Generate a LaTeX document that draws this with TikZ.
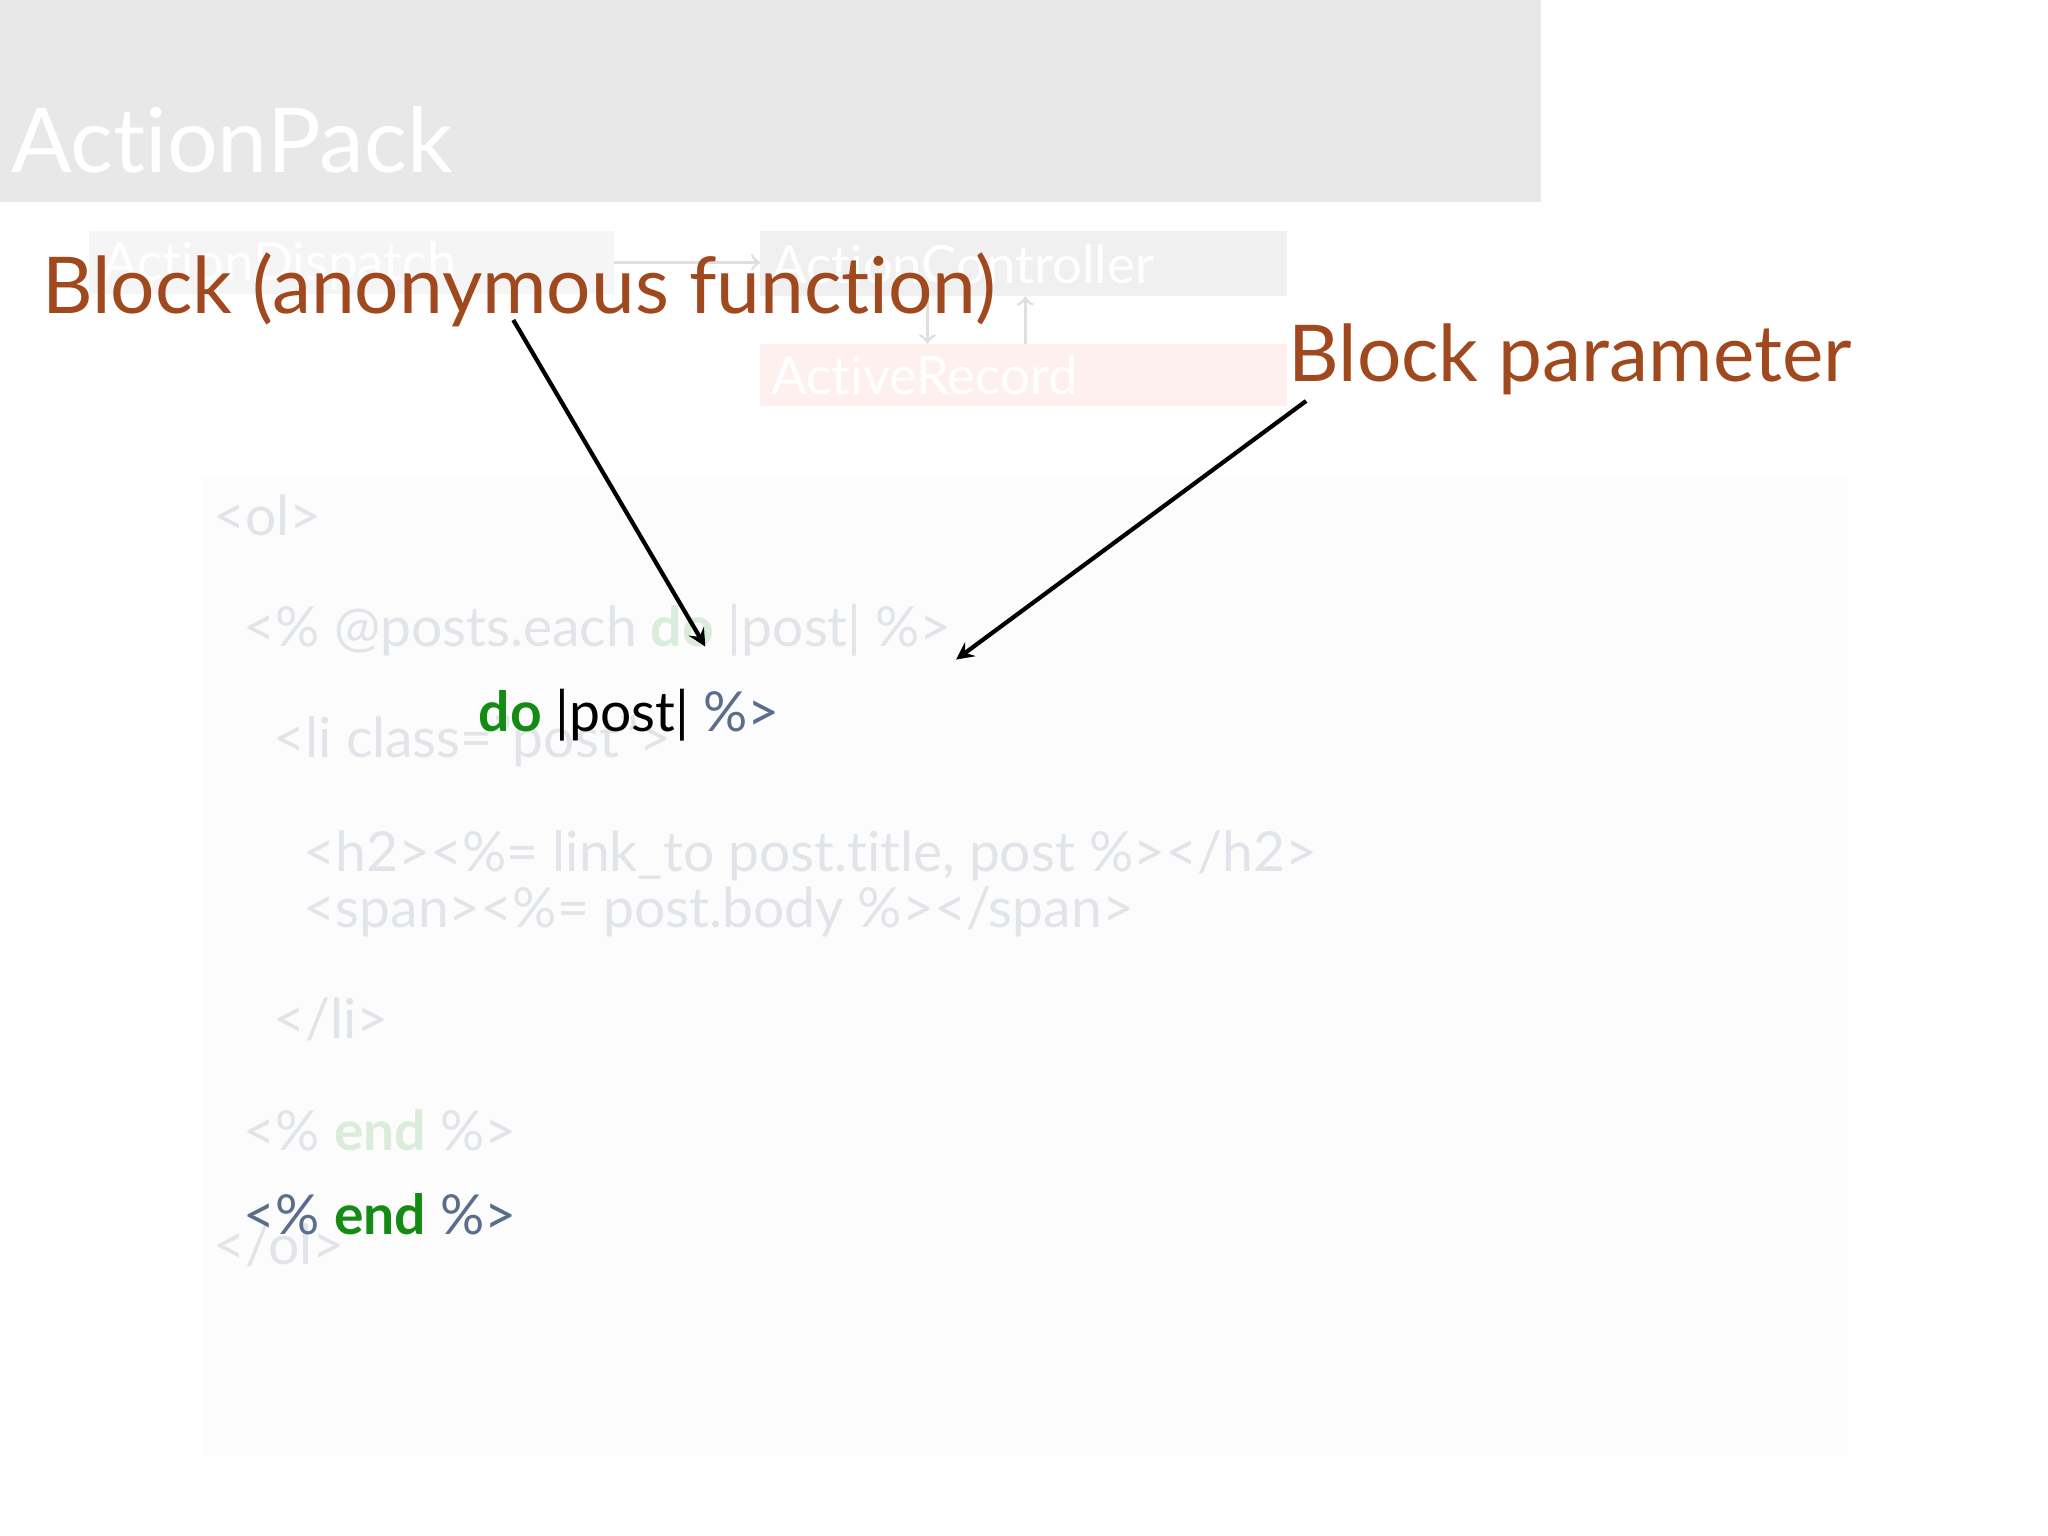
\documentclass[tikz,border=0pt]{standalone}
\usepackage{fontspec}
\setmainfont[Ligatures=NoCommon]{Lato}
\usetikzlibrary{positioning}
\definecolor{rust}{RGB}{160,72,30}
\definecolor{kwgreen}{RGB}{20,140,20}
\definecolor{tagblue}{RGB}{90,110,140}
\definecolor{faint}{RGB}{225,228,232}
\definecolor{faintg}{RGB}{218,236,218}
\begin{document}
\begin{tikzpicture}[x=0.01306cm,y=-0.01306cm]
    % Stili
    \tikzset{label/.style={anchor=base west, inner sep=0, text=rust, font=\fontsize{22.3}{27}\selectfont},
             code/.style={anchor=base west, inner sep=0, font=\fontsize{15.7}{19}\selectfont},
             ghost/.style={code, text=faint},
             box/.style={anchor=north west, inner sep=0},
             pointer/.style={->, >=stealth, very thick, black}}
    \useasboundingbox (0,0) rectangle (1568,1176);
    \fill[white] (0,0) rectangle (1568,1176);

    % Sfondo sbiadito
    \fill[gray!18] (0,0) rectangle (1180,155);
    \node[anchor=base west, inner sep=0, text=white, font=\fontsize{25.5}{30}\selectfont] (title) at (8,132) {ActionPack};
    \fill[gray!8] (68,177) rectangle (470,225);
    \fill[gray!12] (582,177) rectangle (985,227);
    \fill[red!6] (582,263) rectangle (985,311);
    \node[anchor=base west, inner sep=0, text=white, font=\fontsize{15}{18}\selectfont] at (78,215) {ActionDispatch};
    \node[anchor=base west, inner sep=0, text=white, font=\fontsize{15}{18}\selectfont] at (590,217) {ActionController};
    \node[anchor=base west, inner sep=0, text=white, font=\fontsize{15}{18}\selectfont] at (590,302) {ActiveRecord};
    \draw[gray!25, thick, ->] (470,201) -- (582,201);
    \draw[gray!25, thick, ->] (710,227) -- (710,263);
    \draw[gray!25, thick, <-] (785,227) -- (785,263);
    \fill[gray!2] (155,365) rectangle (1415,1115);

    % Codice sbiadito
    \node[ghost] (l1) at (163,410) {<ol>};
    \node[ghost] (l2) at (186,495) {<\% @posts.each \textcolor{faintg}{\bfseries do} |post| \%>};
    \node[ghost] (l3) at (209,580) {<li class="post">};
    \node[ghost] (l4) at (232,667) {<h2><\%= link\_to post.title, post \%></h2>};
    \node[ghost] (l5) at (232,710) {<span><\%= post.body \%></span>};
    \node[ghost] (l6) at (209,795) {</li>};
    \node[ghost] (l7) at (186,881) {<\% \textcolor{faintg}{\bfseries end} \%>};
    \node[ghost] (l8) at (163,968) {</ol>};

    % Codice evidenziato
    \node[code] (dopost) at (366,560) {\textcolor{kwgreen}{\bfseries do} |post| \textcolor{tagblue}{\%>}};
    \node[code] (endtag) at (186,945) {\textcolor{tagblue}{<\%} \textcolor{kwgreen}{\bfseries end} \textcolor{tagblue}{\%>}};

    % Etichette
    \node[label] (block) at (32,240) {Block (anonymous function)};
    \node[label] (param) at (986,292) {Block parameter};
    \coordinate (blockfrom) at (393,245);
    \coordinate (blockto) at (540,495);
    \coordinate (paramfrom) at (1000,307);
    \coordinate (paramto) at (732,505);
    \draw[pointer] (blockfrom) -- (blockto);
    \draw[pointer] (paramfrom) -- (paramto);
\end{tikzpicture}
\end{document}
